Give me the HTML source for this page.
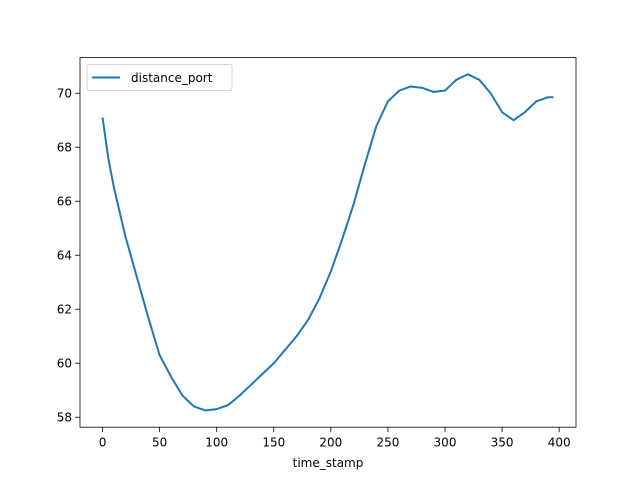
<!DOCTYPE html>
<html><head><meta charset="utf-8"><style>
body{margin:0;background:#fff;}
svg{display:block;font-family:"DejaVu Sans","Liberation Sans",sans-serif;}
</style></head><body>
<svg id="chart" width="640" height="480"></svg>
<script>
const xValues=[0,5,10,20,30,40,50,60,70,80,90,100,110,120,130,140,150,160,170,180,190,200,210,220,230,240,250,260,270,280,290,300,310,320,330,340,350,360,370,380,390,395];
const yValues=[69.1,67.6,66.5,64.7,63.2,61.7,60.3,59.5,58.8,58.4,58.25,58.3,58.45,58.8,59.2,59.6,60.0,60.5,61.0,61.6,62.4,63.4,64.6,65.9,67.4,68.8,69.7,70.1,70.25,70.2,70.05,70.1,70.5,70.7,70.5,70.0,69.3,69.0,69.3,69.7,69.85,69.85];
const xTicks=[0,50,100,150,200,250,300,350,400];
const yTicks=[58,60,62,64,66,68,70];
const seriesName="distance_port";
const L=80,R=576,T=57.6,B=427.2;
const xmin=-19.75,xmax=414.75,ymin=57.63,ymax=71.32;
const sx=v=>L+(v-xmin)/(xmax-xmin)*(R-L);
const sy=v=>B-(v-ymin)/(ymax-ymin)*(B-T);
const svg=document.getElementById('chart');
const NS='http://www.w3.org/2000/svg';
function mk(tag,attrs,parent){const e=document.createElementNS(NS,tag);for(const k in attrs)e.setAttribute(k,attrs[k]);(parent||svg).appendChild(e);return e;}
let d=xValues.map((x,i)=>(i?'L':'M')+sx(x).toFixed(2)+','+sy(yValues[i]).toFixed(2)).join(' ');
const line=mk('path',{d:d,fill:'none',stroke:'#1f77b4','stroke-width':2,'stroke-linejoin':'round'});


const frame=mk('rect',{x:L,y:T,width:R-L,height:B-T,fill:'none',stroke:'#000','stroke-width':0.8});


xTicks.forEach(t=>{const x=sx(t);
 mk('line',{x1:x,x2:x,y1:B,y2:B+4.9,stroke:'#000','stroke-width':0.8});
 const tx=mk('text',{x:x,y:B+19.5,'text-anchor':'middle','font-size':12});tx.textContent=t;
 
 });
yTicks.forEach(t=>{const y=sy(t);
 mk('line',{x1:L,x2:L-4.9,y1:y,y2:y,stroke:'#000','stroke-width':0.8});
 const tx=mk('text',{x:L-8,y:y+4.3,'text-anchor':'end','font-size':12});tx.textContent=t;
 
 });
const xt=mk('text',{x:(L+R)/2,y:467,'text-anchor':'middle','font-size':12});xt.textContent='time_stamp';


const lg=mk('g',{});


mk('rect',{x:87,y:64.5,width:145,height:26,rx:2,fill:'#fff',stroke:'#ccc','stroke-width':0.8},lg);
mk('line',{x1:92,x2:120,y1:77.5,y2:77.5,stroke:'#1f77b4','stroke-width':2},lg);
const lt=mk('text',{x:131,y:81.8,'font-size':12},lg);lt.textContent=seriesName;


</script>
</body></html>
